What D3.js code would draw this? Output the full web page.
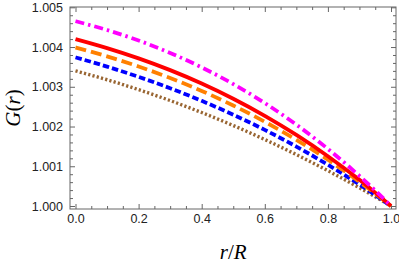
<!DOCTYPE html>
<html>
<head>
<meta charset="utf-8">
<script src="https://cdn.jsdelivr.net/npm/d3@7"></script>
<style>
  body { margin: 0; background: #fff; }
  .tick text { font-family: "Liberation Sans", Arial, sans-serif; font-size: 12.5px; fill: #222; }
  .tick line { stroke: #666; }
</style>
</head>
<body>
<div id="chart"></div>
<script>
// r/R sample points
const rValues = [0, 0.1, 0.2, 0.3, 0.4, 0.5, 0.6, 0.7, 0.8, 0.9, 0.95, 1.0];

// G(r) curves
const gMagenta = [1.004650, 1.004429, 1.004165, 1.003852, 1.003488, 1.003069, 1.002590, 1.002047, 1.001437, 1.000756, 1.000388, 1.000000];
const gRed     = [1.004200, 1.003974, 1.003715, 1.003419, 1.003082, 1.002700, 1.002270, 1.001789, 1.001253, 1.000658, 1.000337, 1.000000];
const gOrange  = [1.003990, 1.003766, 1.003510, 1.003221, 1.002895, 1.002529, 1.002120, 1.001666, 1.001163, 1.000609, 1.000311, 1.000000];
const gBlue    = [1.003740, 1.003508, 1.003249, 1.002963, 1.002646, 1.002298, 1.001915, 1.001495, 1.001038, 1.000540, 1.000276, 1.000000];
const gBrown   = [1.003400, 1.003177, 1.002928, 1.002653, 1.002352, 1.002025, 1.001672, 1.001293, 1.000888, 1.000457, 1.000232, 1.000000];

const xTicks = [0, 0.2, 0.4, 0.6, 0.8, 1.0];
const yTicks = [1.000, 1.001, 1.002, 1.003, 1.004, 1.005];

const series = [
    {values: gMagenta, color: "#ff00ff", dash: "9,4,2.5,4", width: 3.8},
    {values: gRed,     color: "#ff0000", dash: null,        width: 3.8},
    {values: gOrange,  color: "#ff8000", dash: "11,5",      width: 3.8},
    {values: gBlue,    color: "#0000ff", dash: "6.5,3",     width: 3.8},
    {values: gBrown,   color: "#996633", dash: "2.2,2.2",   width: 3.4}
];

const width = 399, height = 263;
const frame = {left: 70, right: 396, top: 7, bottom: 209};

const svg = d3.select("#chart").append("svg")
    .attr("width", width)
    .attr("height", height);

const x = d3.scaleLinear().domain([0, 1]).range([75.5, 391]);
const y = d3.scaleLinear().domain([1.000, 1.005]).range([206, 7.3]);

// minor tick positions
const xMinor = d3.range(0, 1.0001, 0.05).filter(v => Math.abs(v * 5 - Math.round(v * 5)) > 1e-6);
const yMinor = d3.range(1.000, 1.00501, 0.0002).filter(v => Math.abs((v - 1) * 1000 - Math.round((v - 1) * 1000)) > 1e-6);

function addAxis(axisFn, scale, ticks, size, labels, transform, pad) {
    const a = axisFn(scale).tickValues(ticks).tickSize(-size).tickPadding(pad || 6);
    if (labels) a.tickFormat(labels); else a.tickFormat("");
    const g = svg.append("g").attr("transform", transform).call(a);
    g.select(".domain").remove();
    return g;
}

// bottom
addAxis(d3.axisBottom, x, xTicks, 5, d3.format(".1f"), `translate(0,${frame.bottom})`, 5);
addAxis(d3.axisBottom, x, xMinor, 3, null, `translate(0,${frame.bottom})`);
// top
addAxis(d3.axisTop, x, xTicks, 5, null, `translate(0,${frame.top})`);
addAxis(d3.axisTop, x, xMinor, 3, null, `translate(0,${frame.top})`);
// left
addAxis(d3.axisLeft, y, yTicks, 5, d3.format(".3f"), `translate(${frame.left},0)`, 7);
addAxis(d3.axisLeft, y, yMinor, 3, null, `translate(${frame.left},0)`);
// right
addAxis(d3.axisRight, y, yTicks, 5, null, `translate(${frame.right},0)`);
addAxis(d3.axisRight, y, yMinor, 3, null, `translate(${frame.right},0)`);

// curves
const line = d3.line()
    .x((d, i) => x(rValues[i]))
    .y(d => y(d))
    .curve(d3.curveMonotoneX);

svg.append("g").selectAll("path")
    .data(series.slice().reverse())
    .enter()
    .append("path")
    .attr("d", d => line(d.values))
    .attr("fill", "none")
    .attr("stroke", d => d.color)
    .attr("stroke-width", d => d.width)
    .attr("stroke-dasharray", d => d.dash);

// frame
svg.append("rect")
    .attr("x", frame.left)
    .attr("y", frame.top)
    .attr("width", frame.right - frame.left)
    .attr("height", frame.bottom - frame.top)
    .attr("fill", "none")
    .attr("stroke", "#666")
    .attr("stroke-width", 1);

// axis labels
const xl = svg.append("text")
    .attr("x", (x(0) + x(1)) / 2)
    .attr("y", 259)
    .attr("text-anchor", "middle")
    .style("font-family", "'Liberation Serif', 'Times New Roman', serif")
    .style("font-size", "21px");
xl.append("tspan").style("font-style", "italic").text("r");
xl.append("tspan").text("/");
xl.append("tspan").style("font-style", "italic").text("R");

const yl = svg.append("text")
    .attr("transform", `translate(20,${(frame.top + frame.bottom) / 2}) rotate(-90)`)
    .attr("text-anchor", "middle")
    .style("font-family", "'Liberation Serif', 'Times New Roman', serif")
    .style("font-size", "21px");
yl.append("tspan").style("font-style", "italic").text("G");
yl.append("tspan").text("(");
yl.append("tspan").style("font-style", "italic").text("r");
yl.append("tspan").text(")");
</script>
</body>
</html>
